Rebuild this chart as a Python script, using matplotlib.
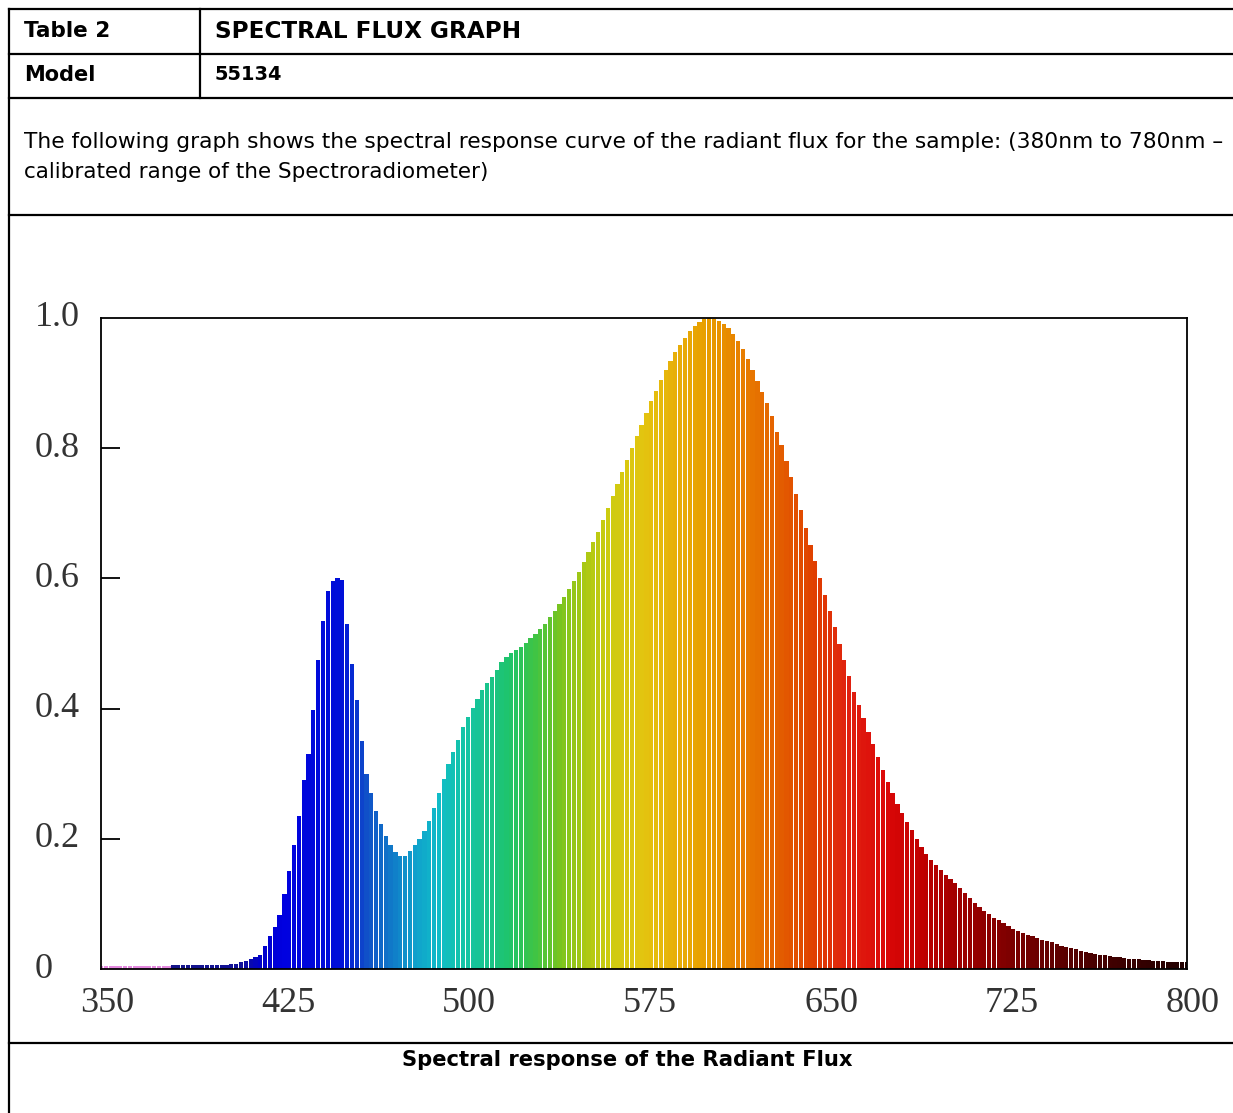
import numpy as np
import matplotlib
matplotlib.use("Agg")
import matplotlib.pyplot as plt
from matplotlib.colors import to_rgb
from matplotlib.transforms import ScaledTranslation, blended_transform_factory

# ---------------- data ----------------
wavelengths = np.arange(350, 801, 2)  # nm
flux = [
    # 350-378 (outside calibrated range)
    0.005, 0.005, 0.005, 0.005, 0.005, 0.005, 0.005, 0.005, 0.005, 0.005,
    0.005, 0.005, 0.005, 0.005, 0.005,
    # 380-398
    0.006, 0.006, 0.006, 0.006, 0.006, 0.006, 0.006, 0.006, 0.006, 0.006,
    # 400-418
    0.006, 0.006, 0.007, 0.008, 0.010, 0.012, 0.015, 0.018, 0.022, 0.035,
    # 420-438
    0.050, 0.065, 0.083, 0.115, 0.150, 0.190, 0.235, 0.290, 0.330, 0.398,
    # 440-458
    0.475, 0.535, 0.580, 0.596, 0.600, 0.598, 0.530, 0.468, 0.413, 0.350,
    # 460-478
    0.300, 0.270, 0.243, 0.222, 0.205, 0.190, 0.180, 0.174, 0.173, 0.182,
    # 480-498
    0.190, 0.200, 0.212, 0.227, 0.248, 0.270, 0.292, 0.315, 0.333, 0.352,
    # 500-518
    0.372, 0.387, 0.401, 0.415, 0.428, 0.439, 0.448, 0.460, 0.472, 0.480,
    # 520-538
    0.485, 0.490, 0.495, 0.501, 0.508, 0.515, 0.522, 0.530, 0.540, 0.550,
    # 540-558
    0.560, 0.572, 0.584, 0.596, 0.610, 0.625, 0.640, 0.656, 0.672, 0.690,
    # 560-578
    0.708, 0.726, 0.745, 0.763, 0.782, 0.800, 0.818, 0.836, 0.854, 0.872,
    # 580-598
    0.888, 0.904, 0.920, 0.934, 0.948, 0.959, 0.970, 0.980, 0.988, 0.994,
    # 600-618
    0.998, 1.000, 0.999, 0.996, 0.991, 0.985, 0.976, 0.965, 0.952, 0.937,
    # 620-638
    0.920, 0.903, 0.887, 0.870, 0.850, 0.825, 0.805, 0.780, 0.755, 0.730,
    # 640-658
    0.705, 0.678, 0.652, 0.626, 0.600, 0.575, 0.550, 0.525, 0.500, 0.475,
    # 660-678
    0.450, 0.425, 0.405, 0.385, 0.364, 0.345, 0.325, 0.305, 0.287, 0.270,
    # 680-698
    0.254, 0.240, 0.226, 0.213, 0.200, 0.188, 0.177, 0.168, 0.160, 0.152,
    # 700-718
    0.145, 0.138, 0.132, 0.124, 0.116, 0.109, 0.102, 0.095, 0.089, 0.084,
    # 720-738
    0.079, 0.075, 0.070, 0.066, 0.062, 0.058, 0.055, 0.052, 0.050, 0.047,
    # 740-758
    0.045, 0.043, 0.041, 0.039, 0.036, 0.034, 0.032, 0.030, 0.028, 0.026,
    # 760-778
    0.025, 0.023, 0.022, 0.021, 0.020, 0.019, 0.018, 0.017, 0.016, 0.015,
    # 780-800
    0.015, 0.014, 0.014, 0.013, 0.013, 0.012, 0.011, 0.011, 0.011, 0.011,
    0.011,
]
x_ticks = [350, 425, 500, 575, 650, 725, 800]
y_ticks = [0, 0.2, 0.4, 0.6, 0.8, 1.0]
y_tick_labels = ["0", "0.2", "0.4", "0.6", "0.8", "1.0"]

header_rows = [("Table 2", "SPECTRAL FLUX GRAPH"), ("Model", "55134")]
paragraph = ["The following graph shows the spectral response curve of the radiant flux for the sample: (380nm to 780nm \u2013",
             "calibrated range of the Spectroradiometer)"]
caption = "Spectral response of the Radiant Flux"

# spectrum colour anchors (style)
color_stops = [
    (350, "#e58ae0"), (378, "#e58ae0"), (380, "#141488"), (408, "#101098"),
    (416, "#0000c8"), (425, "#0000e0"), (450, "#0010d8"), (460, "#1050c8"),
    (470, "#1078c8"), (480, "#10a0cc"), (490, "#10bcc8"), (500, "#14c4a8"),
    (510, "#18c48c"), (520, "#20c468"), (530, "#40c444"), (540, "#78c420"),
    (550, "#a8c814"), (560, "#cccc10"), (575, "#e4c410"), (590, "#e8ac08"),
    (600, "#e8a000"), (615, "#e88000"), (630, "#e46000"), (645, "#e04000"),
    (660, "#e02010"), (675, "#dc0808"), (690, "#c00000"), (705, "#a00000"),
    (725, "#800000"), (745, "#600000"), (765, "#440000"), (785, "#300000"),
    (800, "#200000"),
]

# ---------------- figure ----------------
W, H = 1233, 1113
fig = plt.figure(figsize=(W / 100, H / 100), dpi=100)
fig.patch.set_facecolor("white")

def fx(px):
    return px / W

def fy(py):
    return 1 - py / H

# table lines
lw = 1.6
for yy in [9, 54, 98, 215, 1043]:
    fig.add_artist(plt.Line2D([fx(9), 1.0], [fy(yy), fy(yy)], color="black", lw=lw))
fig.add_artist(plt.Line2D([fx(9), fx(9)], [fy(9), 0.0], color="black", lw=lw))
fig.add_artist(plt.Line2D([fx(200), fx(200)], [fy(9), fy(98)], color="black", lw=lw))

sans = ["DejaVu Sans"]
fit_items = []  # (text artist, target width in px)
for (a, b), yc, wa, wb in zip(header_rows, [31, 75], [86, 71], [305, 67]):
    t1 = fig.text(fx(24), fy(yc), a, fontsize=13, fontweight="bold", family=sans, va="center", ha="left")
    t2 = fig.text(fx(215), fy(yc), b, fontsize=13, fontweight="bold", family=sans, va="center", ha="left")
    fit_items += [(t1, wa), (t2, wb)]
for line, yc, wt in zip(paragraph, [142, 172], [1196, 465]):
    t = fig.text(fx(24), fy(yc), line, fontsize=13, family=sans, va="center", ha="left")
    fit_items.append((t, wt))
tc = fig.text(fx(627), fy(1060), caption, fontsize=13, fontweight="bold", family=sans, va="center", ha="center")
fit_items.append((tc, 448))

# chart axes
ax = fig.add_axes([fx(101), fy(969), fx(1187) - fx(101), fy(318) - fy(969)])
stops_w = np.array([s[0] for s in color_stops], dtype=float)
stops_c = np.array([to_rgb(s[1]) for s in color_stops])
bar_colors = np.column_stack([np.interp(wavelengths, stops_w, stops_c[:, k]) for k in range(3)])
ax.bar(wavelengths, flux, width=1.76, color=bar_colors, linewidth=0, align="center")

ax.set_xlim(350, 800)
ax.set_ylim(0, 1.0)
for s in ax.spines.values():
    s.set_linewidth(1.3)
    s.set_color("black")

serif = "Liberation Serif"
ax.set_xticks(x_ticks)
ax.set_xticklabels([str(v) for v in x_ticks], fontsize=26, family=serif, color="#333333")
ax.tick_params(axis="x", length=0, pad=13)
for lab in ax.get_xticklabels():
    lab.set_transform(lab.get_transform() + ScaledTranslation(6 / 100, 0, fig.dpi_scale_trans))

ax.set_yticks([0.2, 0.4, 0.6, 0.8])
ax.set_yticklabels([])
ax.tick_params(axis="y", direction="in", length=14, width=1.3, color="black")
trans = blended_transform_factory(fig.transFigure, ax.transData)
for v, lab in zip(y_ticks, y_tick_labels):
    ax.text(fx(35), v, lab, transform=trans, fontsize=26, family=serif, color="#333333",
            ha="left", va="center", clip_on=False)

# fit document text widths to the layout
renderer = fig.canvas.get_renderer()
for t, target in fit_items:
    w = t.get_window_extent(renderer).width
    t.set_fontsize(t.get_fontsize() * target / w)

fig.savefig("out.png", dpi=100, facecolor="white")
